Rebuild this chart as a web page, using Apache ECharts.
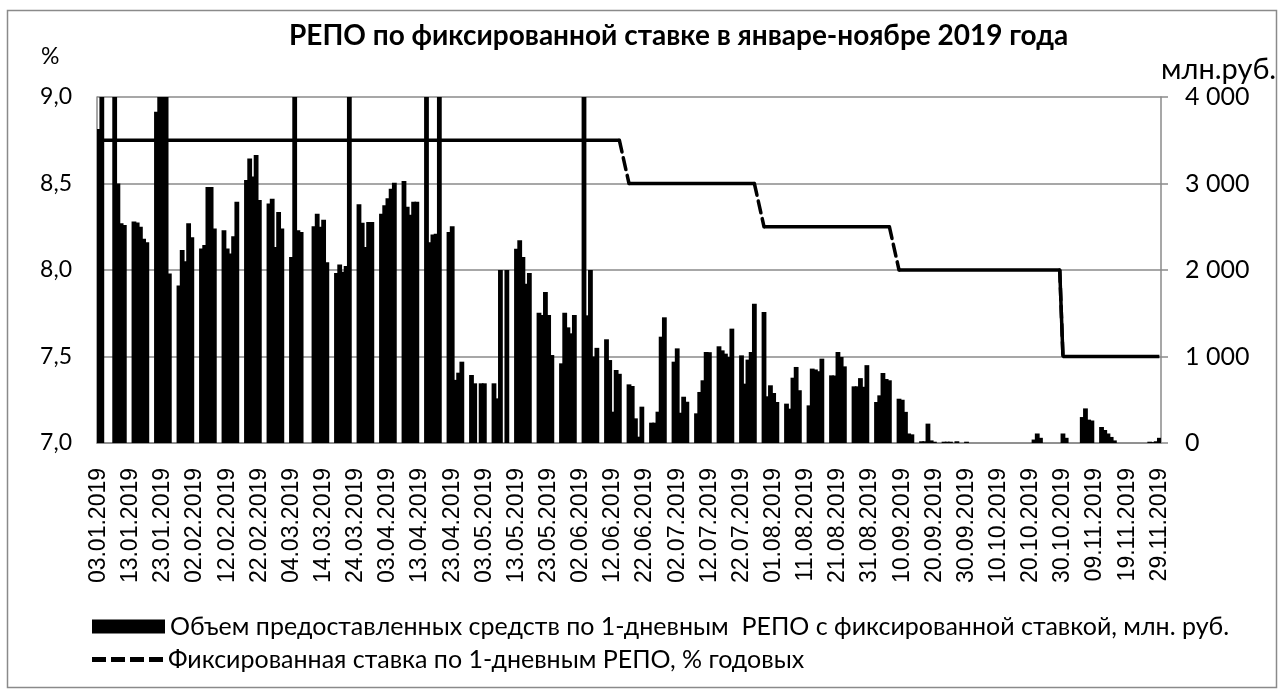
<!DOCTYPE html>
<html>
<head>
<meta charset="utf-8">
<title>РЕПО по фиксированной ставке</title>
<script src="https://cdn.jsdelivr.net/npm/echarts@6.0.0/dist/echarts.min.js"></script>
<style>
  html, body { margin: 0; padding: 0; background: #fff; }
  #chart { width: 1283px; height: 695px; }
</style>
</head>
<body>
<div id="chart"></div>
<script>
// объем, млн. руб. по дням (с 03.01.2019), выходные = 0
const volJan = [3630, 4500, 0, 0, 0, 4500, 3000, 2540, 2520, 0, 0, 2560, 2550, 2500, 2360, 2320, 0, 0,
  3830, 4500, 4500, 4500, 1960, 0, 0, 1820, 2230, 2100, 2540];
const volFeb = [2380, 0, 0, 2250, 2290, 2960, 2960, 2480, 0, 0, 2460, 2250, 2190, 2390, 2790, 0, 0,
  3040, 3290, 3080, 3330, 2810, 0, 0, 2770, 2825, 2265, 2670];
const volMar = [2480, 0, 0, 2150, 4500, 2460, 2440, 0, 0, 0, 2505, 2650, 2500, 2580, 2090, 0, 0,
  1965, 2065, 1980, 2045, 4500, 0, 0, 2760, 2545, 2266, 2555, 2555, 0, 0];
const volApr = [2650, 2750, 2830, 2940, 3010, 0, 0, 3030, 2730, 2640, 2790, 2790, 0, 0,
  4500, 2320, 2410, 2420, 4500, 0, 0, 2440, 2505, 730, 813, 940, 0, 0, 786, 690];
const volMay = [0, 690, 690, 0, 0, 690, 516, 2000, 0, 2000, 0, 0, 2247, 2343, 2150, 1842, 1965, 0, 0,
  1506, 1480, 1746, 1480, 1017, 0, 0, 921, 1506, 1337, 1268, 1480];
const volJun = [0, 0, 4500, 1476, 2000, 1000, 1100, 0, 0, 1199, 959, 362, 844, 800, 0, 0,
  678, 659, 285, 73, 420, 0, 0, 235, 235, 362, 1229, 1453, 0, 0];
const volJul = [940, 1094, 350, 535, 477, 0, 0, 343, 590, 725, 1052, 1050, 0, 0,
  1118, 1071, 1033, 994, 1322, 0, 0, 1013, 686, 964, 1052, 1611, 0, 0, 1515, 540, 667];
const volAug = [578, 474, 0, 0, 455, 397, 755, 879, 610, 0, 0, 435, 860, 850, 830, 975, 0, 0,
  782, 780, 1052, 994, 886, 0, 0, 655, 655, 750, 650, 900, 0];
const volSep = [0, 474, 551, 809, 740, 725, 0, 0, 512, 500, 360, 110, 100, 0, 0,
  20, 20, 224, 30, 15, 0, 0, 15, 15, 15, 0, 20, 0, 0, 15];
const volOct = [0, 0, 0, 0, 0, 0, 0, 0, 0, 0, 0, 0, 0, 0, 0, 0, 0, 0, 0, 0,
  40, 110, 60, 0, 0, 0, 0, 0, 0, 110, 60];
const volNov = [0, 0, 0, 0, 300, 400, 270, 260, 0, 0, 185, 150, 110, 70, 30, 0, 0,
  0, 0, 0, 0, 0, 0, 0, 0, 15, 10, 20, 60];

// фиксированная ставка, % годовых (периоды действия)
const rateLevel = [8.75, 8.5, 8.25, 8.0, 7.5];
const rateFrom = ['03.01.2019', '17.06.2019', '29.07.2019', '09.09.2019', '30.10.2019'];
const rateTo = ['14.06.2019', '26.07.2019', '06.09.2019', '29.10.2019', '29.11.2019'];

// подписи осей
const leftTicks = [7.0, 7.5, 8.0, 8.5, 9.0];
const rightTicks = [0, 1000, 2000, 3000, 4000];

const BAR_NAME = 'Объем предоставленных средств по 1-дневным  РЕПО с фиксированной ставкой, млн. руб.';
const LINE_NAME = 'Фиксированная ставка по 1-дневным РЕПО, % годовых';

const volume = [].concat(volJan, volFeb, volMar, volApr, volMay, volJun, volJul, volAug, volSep, volOct, volNov);

const pad = n => (n < 10 ? '0' : '') + n;
const dates = volume.map((v, i) => {
  const d = new Date(Date.UTC(2019, 0, 3 + i));
  return pad(d.getUTCDate()) + '.' + pad(d.getUTCMonth() + 1) + '.' + d.getUTCFullYear();
});

// сплошные горизонтальные участки
const rateFlat = dates.map((d, i) => {
  for (let k = 0; k < rateLevel.length; k++) {
    if (i >= dates.indexOf(rateFrom[k]) && i <= dates.indexOf(rateTo[k])) return rateLevel[k];
  }
  return null;
});

// пунктирные переходы между уровнями
const stepSeries = rateLevel.slice(1).map((lvl, k) => ({
  name: LINE_NAME,
  type: 'line',
  yAxisIndex: 0,
  symbol: 'none',
  connectNulls: true,
  z: 4,
  itemStyle: { color: '#000', borderWidth: 0 },
  lineStyle: { color: '#000', width: 3.5, type: [12, 6], cap: 'round' },
  data: dates.map(d => (d === rateTo[k] ? rateLevel[k] : d === rateFrom[k + 1] ? lvl : null))
}));

// значок легенды: четыре штриха
const DASH_ICON = 'path://M0,0h14v5h-14z M19,0h14v5h-14z M38,0h14v5h-14z M57,0h14v5h-14z';

const FONT = 'Lato, "Open Sans", sans-serif';
const GRID_COLOR = '#8a8a8a';

const chart = echarts.init(document.getElementById('chart'));
chart.setOption({
  animation: false,
  backgroundColor: '#fff',
  textStyle: { fontFamily: FONT, color: '#000' },
  title: {
    text: 'РЕПО по фиксированной ставке в январе-ноябре 2019 года',
    left: 289,
    top: 22,
    padding: 0,
    textStyle: { fontFamily: FONT, fontSize: 28, fontWeight: 'bold', color: '#000' }
  },
  graphic: [
    {
      type: 'rect', silent: true, z: -1,
      shape: { x: 7.5, y: 10.5, width: 1269, height: 677 },
      style: { fill: 'none', stroke: GRID_COLOR, lineWidth: 1.5 }
    },
    {
      type: 'text', left: 41, top: 45,
      style: { text: '%', fontFamily: FONT, fontSize: 23, fill: '#000' }
    },
    {
      type: 'text', left: 1161, top: 55,
      style: { text: 'млн.руб.', fontFamily: FONT, fontSize: 29, fill: '#000' }
    }
  ],
  legend: [
    {
      data: [{ name: BAR_NAME, icon: 'rect' }],
      left: 92, top: 614, padding: 0, itemWidth: 73, itemHeight: 14,
      selectedMode: false,
      textStyle: { fontFamily: FONT, fontSize: 25, color: '#000' }
    },
    {
      data: [{ name: LINE_NAME, icon: DASH_ICON }],
      left: 92, top: 647, padding: 0, itemWidth: 71, itemHeight: 5,
      selectedMode: false,
      itemStyle: { borderWidth: 0 },
      textStyle: { fontFamily: FONT, fontSize: 25, color: '#000' }
    }
  ],
  grid: { left: 97, right: 122, top: 97, bottom: 252, containLabel: false },
  xAxis: {
    type: 'category',
    data: dates,
    boundaryGap: true,
    axisLine: { lineStyle: { color: GRID_COLOR, width: 1.5 } },
    axisTick: { show: false },
    axisLabel: {
      interval: 9,
      rotate: 90,
      margin: 25,
      fontFamily: '"Liberation Sans", Arial, sans-serif',
      fontSize: 23,
      color: '#000'
    }
  },
  yAxis: [
    {
      type: 'value',
      min: leftTicks[0], max: leftTicks[leftTicks.length - 1], interval: 0.5,
      axisLine: { show: true, lineStyle: { color: GRID_COLOR, width: 1.5 } },
      axisTick: { show: false },
      splitLine: { show: true, lineStyle: { color: GRID_COLOR, width: 1.5 } },
      axisLabel: {
        margin: 25, fontFamily: FONT, fontSize: 23, color: '#000',
        formatter: v => v.toFixed(1).replace('.', ',')
      }
    },
    {
      type: 'value',
      min: rightTicks[0], max: rightTicks[rightTicks.length - 1], interval: 1000,
      position: 'right',
      axisLine: { show: true, lineStyle: { color: GRID_COLOR, width: 1.5 } },
      axisTick: { show: true, inside: false, length: 7, lineStyle: { color: GRID_COLOR, width: 1.5 } },
      splitLine: { show: false },
      axisLabel: {
        margin: 24, fontFamily: FONT, fontSize: 25, color: '#000',
        formatter: v => String(v).replace(/\B(?=(\d{3})+(?!\d))/g, ' ')
      }
    }
  ],
  series: [
    {
      name: BAR_NAME,
      type: 'bar',
      yAxisIndex: 1,
      barWidth: 4.8,
      clip: true,
      itemStyle: { color: '#000' },
      data: volume,
      z: 2
    },
    {
      name: 'rateFlat',
      type: 'line',
      yAxisIndex: 0,
      symbol: 'none',
      connectNulls: false,
      z: 4,
      lineStyle: { color: '#000', width: 3.5, type: 'solid' },
      data: rateFlat
    }
  ].concat(stepSeries)
});
</script>
</body>
</html>
